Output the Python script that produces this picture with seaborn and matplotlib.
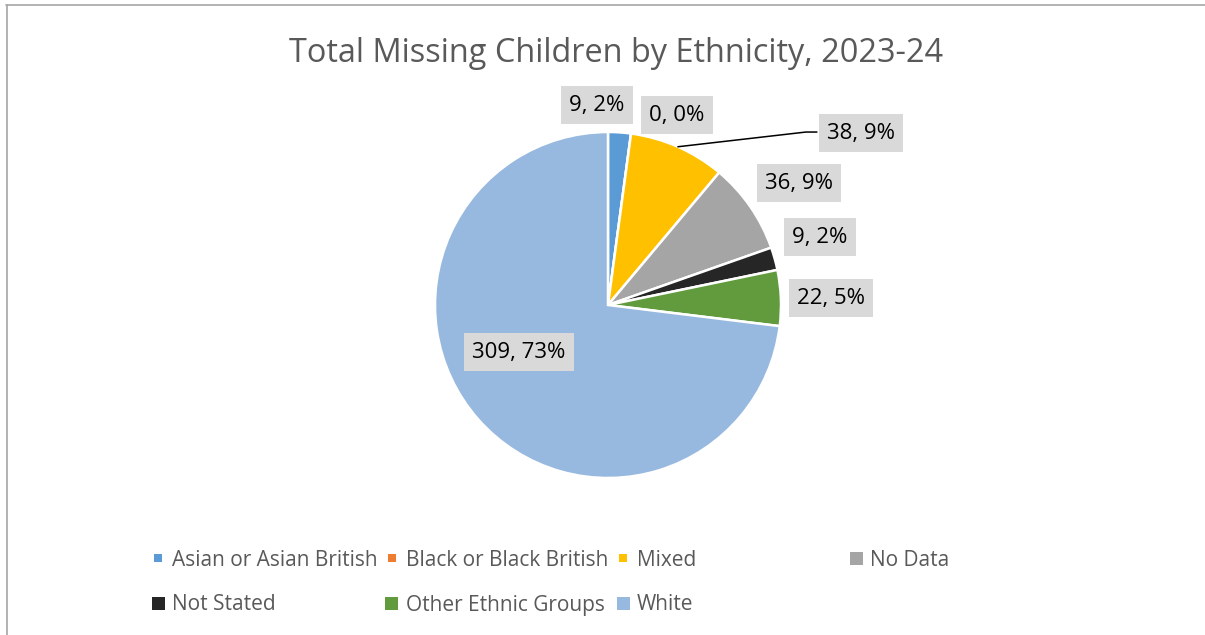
import matplotlib
matplotlib.use("Agg")
import matplotlib.pyplot as plt
from matplotlib.patches import Rectangle
from matplotlib.lines import Line2D
import seaborn as sns
import numpy as np

categories = ["Asian or Asian British", "Black or Black British", "Mixed", "No Data",
              "Not Stated", "Other Ethnic Groups", "White"]
counts = [9, 0, 38, 36, 9, 22, 309]
percent_labels = ["2%", "0%", "9%", "9%", "2%", "5%", "73%"]
colors = ["#5B9BD5", "#ED7D31", "#FFC000", "#A5A5A5", "#262626", "#629B3E", "#98B9DF"]
title = "Total Missing Children by Ethnicity, 2023-24"

# label centre positions (axes data units, radius = 1)
label_pos = [(-0.064, 1.156), (0.399, 1.098), (1.462, 0.994), (1.104, 0.705),
             (1.225, 0.393), (1.289, 0.040), (-0.514, -0.272)]

sns.set_theme(style="white")
plt.rcParams["font.family"] = ["Open Sans", "DejaVu Sans"]

W, H = 1205, 635
fig = plt.figure(figsize=(W / 100, H / 100), dpi=100)
fig.patch.set_facecolor("white")

cx, cy, r = 608, 305, 173
ax = fig.add_axes([(cx - r) / W, (H - cy - r) / H, 2 * r / W, 2 * r / H])
ax.set_aspect("equal")

wedges, _ = ax.pie(counts, colors=colors, startangle=90, counterclock=False, radius=1,
                   wedgeprops=dict(edgecolor="white", linewidth=1.8))
ax.set_xlim(-1, 1)
ax.set_ylim(-1, 1)
ax.set_axis_off()

text_color = "#000000"
for i, (n, p) in enumerate(zip(counts, percent_labels)):
    x, y = label_pos[i]
    ax.text(x, y, f"{n}, {p}", ha="center", va="center", fontsize=16, color=text_color,
            bbox=dict(boxstyle="square,pad=0.37", facecolor="#D9D9D9", edgecolor="none"),
            clip_on=False, zorder=5)

# leader line for Mixed
total = sum(counts)
start = 90 - 360 * sum(counts[:2]) / total
mid = start - 0.5 * 360 * counts[2] / total
x0, y0 = np.cos(np.radians(mid)), np.sin(np.radians(mid))
lx, ly = label_pos[2]
xl = lx - 44 / r
ax.plot([x0, xl - 11 / r, xl], [y0, ly + 1 / r, ly + 1 / r], color="black", lw=1.1,
        clip_on=False, zorder=4)

fig.text(616 / W, 1 - 53 / H, title, ha="center", va="center", fontsize=23.4, color="#595959")

# legend
leg_cols = [158, 392, 623, 856]
leg_rows = [558, 603]
marker_sizes = [8, 8, 8, 13, 13, 13, 13]
for i, cat in enumerate(categories):
    row, col = divmod(i, 4)
    xm, ym = leg_cols[col], leg_rows[row]
    s = marker_sizes[i]
    fig.add_artist(Rectangle(((xm - s / 2) / W, 1 - (ym + s / 2) / H), s / W, s / H,
                             transform=fig.transFigure, facecolor=colors[i], edgecolor="none"))
    fig.text((leg_cols[col] + 14) / W, 1 - (ym + 2) / H, cat, ha="left", va="center",
             fontsize=15, color="#595959")

# chart frame (left and top edges visible)
fig.add_artist(Line2D([6.5 / W, 6.5 / W], [0, 1 - 5 / H], transform=fig.transFigure,
                      color="#A6A6A6", lw=1.2))
fig.add_artist(Line2D([6 / W, 1], [1 - 5 / H, 1 - 5 / H], transform=fig.transFigure,
                      color="#A6A6A6", lw=1.2))

fig.savefig("out.png", dpi=100)
